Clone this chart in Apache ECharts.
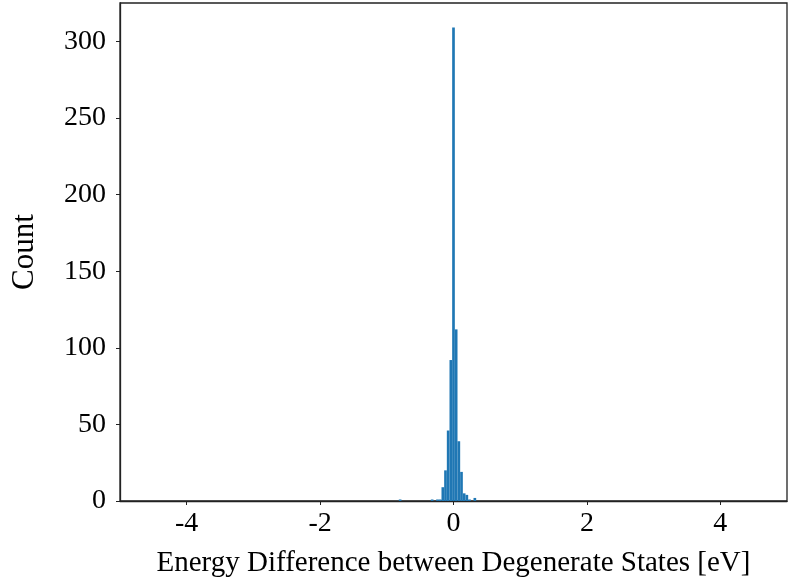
<!DOCTYPE html>
<html>
<head>
<meta charset="utf-8">
<script src="https://cdn.jsdelivr.net/npm/echarts@6/dist/echarts.min.js"></script>
<style>
  html, body { margin: 0; padding: 0; background: #fff; }
  #chart { width: 798px; height: 583px; }
</style>
</head>
<body>
<div id="chart"></div>
<script>
// histogram bins (centres, eV) and counts
const binWidth = 0.04;
const binCenters = [-0.80, -0.32, -0.24, -0.20, -0.16, -0.12, -0.08, -0.04, 0.00, 0.04, 0.08, 0.12, 0.16, 0.20, 0.24, 0.32];
const counts     = [1, 1, 1, 1, 9, 20, 46, 92, 309, 112, 39, 19, 5, 4, 1, 2];
const xTicks = [-4, -2, 0, 2, 4];
const yTicks = [0, 50, 100, 150, 200, 250, 300];

const font = "'Liberation Serif', 'DejaVu Serif', serif";
const axisColor = "#222";

const chart = echarts.init(document.getElementById("chart"));

const histData = binCenters.map((c, i) => [c - binWidth / 2, c + binWidth / 2, counts[i]]);

chart.setOption({
    animation: false,
    grid: {
        left: 120,
        right: 11,
        top: 3,
        bottom: 82,
        show: true,
        borderColor: axisColor,
        borderWidth: 1.3,
    },
    xAxis: {
        type: "value",
        min: -5,
        max: 5,
        name: "Energy Difference between Degenerate States [eV]",
        nameLocation: "middle",
        nameGap: 48,
        nameTextStyle: { fontFamily: font, fontSize: 29, color: "#000" },
        axisLine: { onZero: false, lineStyle: { color: axisColor, width: 1.3 } },
        axisTick: { customValues: xTicks, length: 4, lineStyle: { color: axisColor } },
        axisLabel: {
            customValues: xTicks,
            margin: 9,
            fontFamily: font,
            fontSize: 28,
            color: "#000",
        },
        splitLine: { show: false },
    },
    yAxis: {
        type: "value",
        min: 0,
        max: 325,
        name: "Count",
        nameLocation: "middle",
        nameGap: 80,
        nameTextStyle: { fontFamily: font, fontSize: 31, color: "#000" },
        axisLine: { show: true, onZero: false, lineStyle: { color: axisColor, width: 1.3 } },
        axisTick: { customValues: yTicks, length: 4, lineStyle: { color: axisColor } },
        axisLabel: {
            customValues: yTicks,
            margin: 14,
            fontFamily: font,
            fontSize: 28,
            color: "#000",
        },
        splitLine: { show: false },
    },
    series: [
        {
            type: "custom",
            data: histData,
            encode: { x: [0, 1], y: 2 },
            renderItem: function (params, api) {
                const p0 = api.coord([api.value(0), api.value(2)]);
                const p1 = api.coord([api.value(1), 0]);
                return {
                    type: "rect",
                    shape: { x: p0[0], y: p0[1], width: p1[0] - p0[0], height: p1[1] - p0[1] },
                    style: { fill: "#1f77b4" },
                };
            },
        },
    ],
});
</script>
</body>
</html>
